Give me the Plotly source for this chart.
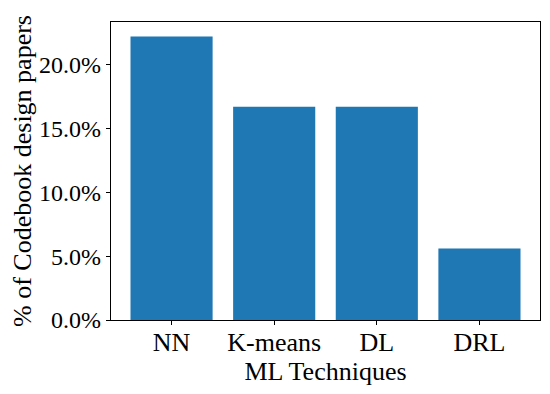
import plotly.graph_objects as go

categories = ["NN", "K-means", "DL", "DRL"]
percent_values = [22.2, 16.7, 16.7, 5.6]
y_tick_values = [0, 5, 10, 15, 20]
y_tick_labels = ["0.0%", "5.0%", "10.0%", "15.0%", "20.0%"]

FONT = "Liberation Serif"
FS = 26

fig = go.Figure(go.Bar(
    x=categories,
    y=percent_values,
    marker=dict(color="#1f77b4", line=dict(width=0)),
))

fig.update_layout(
    width=550, height=394,
    margin=dict(l=103, r=18, t=14, b=82),
    paper_bgcolor="white", plot_bgcolor="white",
    bargap=0.2,
    showlegend=False,
    font=dict(family=FONT, size=FS, color="black"),
)
fig.update_xaxes(
    range=[-0.59, 3.59],
    automargin=False,
    showline=True, linecolor="black", linewidth=1.3, mirror=True,
    ticks="outside", ticklen=4, tickcolor="black", tickwidth=1,
    ticklabelstandoff=-5,
    showgrid=False, zeroline=False,
    tickfont=dict(family=FONT, size=FS),
    title=dict(text="ML Techniques", font=dict(family=FONT, size=FS), standoff=0),
)
fig.update_yaxes(
    range=[0, 23.33],
    automargin=False,
    tickvals=y_tick_values,
    ticktext=y_tick_labels,
    showline=True, linecolor="black", linewidth=1.3, mirror=True,
    ticks="outside", ticklen=4, tickcolor="black", tickwidth=1,
    ticklabelstandoff=0,
    showgrid=False, zeroline=False,
    tickfont=dict(family=FONT, size=24),
    title=dict(text="% of Codebook design papers", font=dict(family=FONT, size=FS), standoff=8),
)

fig.write_html("out.html")
